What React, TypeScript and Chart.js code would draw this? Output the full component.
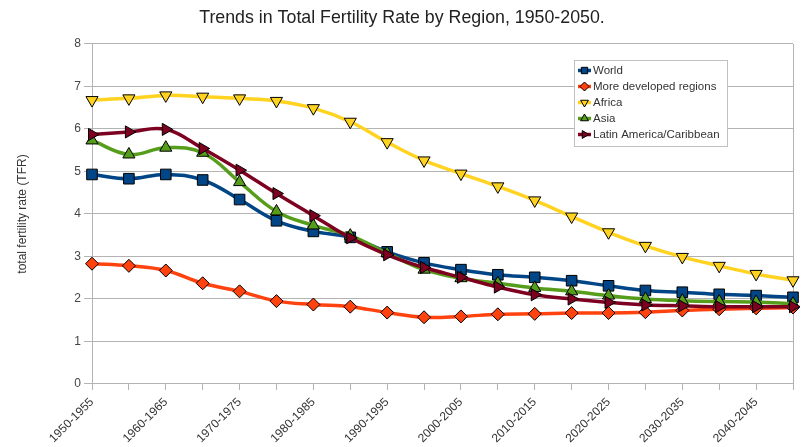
import React, { useEffect, useRef } from 'react';
import { Chart, registerables } from 'chart.js';

Chart.register(...registerables);

const periods = [
  '1950-1955', '1955-1960', '1960-1965', '1965-1970', '1970-1975',
  '1975-1980', '1980-1985', '1985-1990', '1990-1995', '1995-2000',
  '2000-2005', '2005-2010', '2010-2015', '2015-2020', '2020-2025',
  '2025-2030', '2030-2035', '2035-2040', '2040-2045', '2045-2050',
];

const world = [4.93, 4.83, 4.93, 4.80, 4.34, 3.84, 3.59, 3.45, 3.11, 2.85, 2.69, 2.57, 2.51, 2.43, 2.31, 2.20, 2.16, 2.11, 2.08, 2.04];
const moreDeveloped = [2.83, 2.78, 2.67, 2.37, 2.18, 1.95, 1.87, 1.82, 1.68, 1.57, 1.59, 1.64, 1.65, 1.67, 1.67, 1.69, 1.73, 1.76, 1.78, 1.80];
const africa = [6.68, 6.72, 6.79, 6.76, 6.72, 6.66, 6.49, 6.17, 5.69, 5.26, 4.95, 4.65, 4.32, 3.94, 3.57, 3.25, 2.99, 2.78, 2.59, 2.44];
const asia = [5.73, 5.40, 5.56, 5.44, 4.75, 4.06, 3.73, 3.49, 3.08, 2.69, 2.49, 2.37, 2.26, 2.18, 2.08, 2.00, 1.96, 1.94, 1.93, 1.89];
const latinAmerica = [5.87, 5.93, 5.99, 5.54, 5.03, 4.48, 3.96, 3.44, 3.04, 2.74, 2.51, 2.28, 2.10, 2.00, 1.92, 1.86, 1.84, 1.82, 1.82, 1.82];

const seriesNames = ['World', 'More developed regions', 'Africa', 'Asia', 'Latin America/Caribbean'];
const seriesColors = ['#004586', '#ff420e', '#ffd320', '#579d1c', '#7e0021'];
const seriesStyles = ['rect', 'rectRot', 'triangle', 'triangle', 'triangle'];
const seriesRotations = [0, 0, 180, 0, 90];
const seriesRadius = [7.5, 6.5, 7, 7, 7];

const yMin = 0;
const yMax = 8;

const FONT = "'Liberation Sans', Arial, sans-serif";

function drawMarker(ctx: CanvasRenderingContext2D, style: string, rotation: number, x: number, y: number, r: number) {
  ctx.beginPath();
  if (style === 'rect') {
    const s = r * Math.SQRT1_2;
    ctx.rect(x - s, y - s, 2 * s, 2 * s);
  } else if (style === 'rectRot') {
    ctx.moveTo(x, y - r);
    ctx.lineTo(x + r, y);
    ctx.lineTo(x, y + r);
    ctx.lineTo(x - r, y);
    ctx.closePath();
  } else {
    let rad = (rotation * Math.PI) / 180;
    ctx.moveTo(x + Math.sin(rad) * r, y - Math.cos(rad) * r);
    rad += (2 * Math.PI) / 3;
    ctx.lineTo(x + Math.sin(rad) * r, y - Math.cos(rad) * r);
    rad += (2 * Math.PI) / 3;
    ctx.lineTo(x + Math.sin(rad) * r, y - Math.cos(rad) * r);
    ctx.closePath();
  }
  ctx.fill();
  ctx.stroke();
}

const boxLegend = {
  id: 'boxLegend',
  afterDraw(chart: any) {
    const ctx: CanvasRenderingContext2D = chart.ctx;
    ctx.save();
    const x0 = 574, y0 = 60, w = 153, h = 86;
    ctx.fillStyle = '#ffffff';
    ctx.fillRect(x0, y0, w, h);
    ctx.strokeStyle = '#c0c0c0';
    ctx.lineWidth = 1;
    ctx.strokeRect(x0 + 0.5, y0 + 0.5, w, h);
    ctx.font = `11.5px ${FONT}`;
    ctx.textBaseline = 'middle';
    ctx.textAlign = 'left';
    seriesNames.forEach((name, i) => {
      const cy = 70.5 + i * 16;
      ctx.strokeStyle = seriesColors[i];
      ctx.lineWidth = 3.5;
      ctx.beginPath();
      ctx.moveTo(578, cy);
      ctx.lineTo(591, cy);
      ctx.stroke();
      ctx.fillStyle = seriesColors[i];
      ctx.strokeStyle = '#000';
      ctx.lineWidth = 1;
      drawMarker(ctx, seriesStyles[i], seriesRotations[i], 584.5, cy, 4.5);
      ctx.fillStyle = '#333';
      ctx.fillText(name, 593, cy + 0.5);
    });
    ctx.restore();
  },
};

export default function App() {
  const ref = useRef<HTMLCanvasElement | null>(null);

  useEffect(() => {
    if (!ref.current) return;
    const values = [world, moreDeveloped, africa, asia, latinAmerica];
    const chart = new Chart(ref.current, {
      type: 'line',
      data: {
        labels: periods,
        datasets: values.map((v, i) => ({
          label: seriesNames[i],
          data: v,
          borderColor: seriesColors[i],
          backgroundColor: seriesColors[i],
          borderWidth: 3.5,
          tension: 0.4,
          pointStyle: seriesStyles[i] as any,
          pointRotation: seriesRotations[i],
          pointRadius: seriesRadius[i],
          pointBorderColor: '#000',
          pointBorderWidth: 1,
          pointBackgroundColor: seriesColors[i],
          order: 5 - i,
          fill: false,
        })),
      },
      options: {
        animation: false,
        responsive: false,
        maintainAspectRatio: false,
        layout: { padding: { left: 11, right: 16, top: 0, bottom: 0 } },
        plugins: {
          legend: { display: false },
          tooltip: { enabled: false },
          title: {
            display: true,
            text: 'Trends in Total Fertility Rate by Region, 1950-2050.',
            color: '#222',
            font: { family: FONT, size: 17.8, weight: 'normal' },
            padding: { top: 7, bottom: 15.6 },
          },
        },
        scales: {
          x: {
            type: 'category',
            offset: false,
            grid: {
              display: true,
              drawOnChartArea: true,
              color: (c: any) => (c.index === periods.length - 1 ? '#b3b3b3' : 'rgba(0,0,0,0)'),
              tickColor: '#b3b3b3',
              tickLength: 6,
            },
            border: { display: true, color: '#b3b3b3' },
            ticks: {
              autoSkip: false,
              maxRotation: 45,
              minRotation: 45,
              padding: 5,
              color: '#333',
              font: { family: FONT, size: 12 },
              callback: (_v: any, i: number) => (i % 2 === 0 ? periods[i] : ''),
            },
            afterFit: (s: any) => {
              s.height = 63;
            },
          },
          y: {
            min: yMin,
            max: yMax,
            grid: { color: '#b3b3b3', tickLength: 8, tickColor: '#b3b3b3' },
            border: { display: true, color: '#b3b3b3' },
            ticks: {
              stepSize: 1,
              padding: 3,
              color: '#444',
              font: { family: FONT, size: 12 },
            },
            title: {
              display: true,
              text: 'total fertility rate (TFR)',
              color: '#333',
              font: { family: FONT, size: 12 },
              padding: { top: 4, bottom: 4 },
            },
            afterFit: (s: any) => {
              s.width = 81;
            },
          },
        },
      },
      plugins: [boxLegend],
    });
    return () => chart.destroy();
  }, []);

  return (
    <div style={{ position: 'absolute', left: 0, top: 0, width: 809, height: 447, background: '#fff' }}>
      <canvas ref={ref} width={809} height={447} style={{ width: 809, height: 447 }} />
    </div>
  );
}
